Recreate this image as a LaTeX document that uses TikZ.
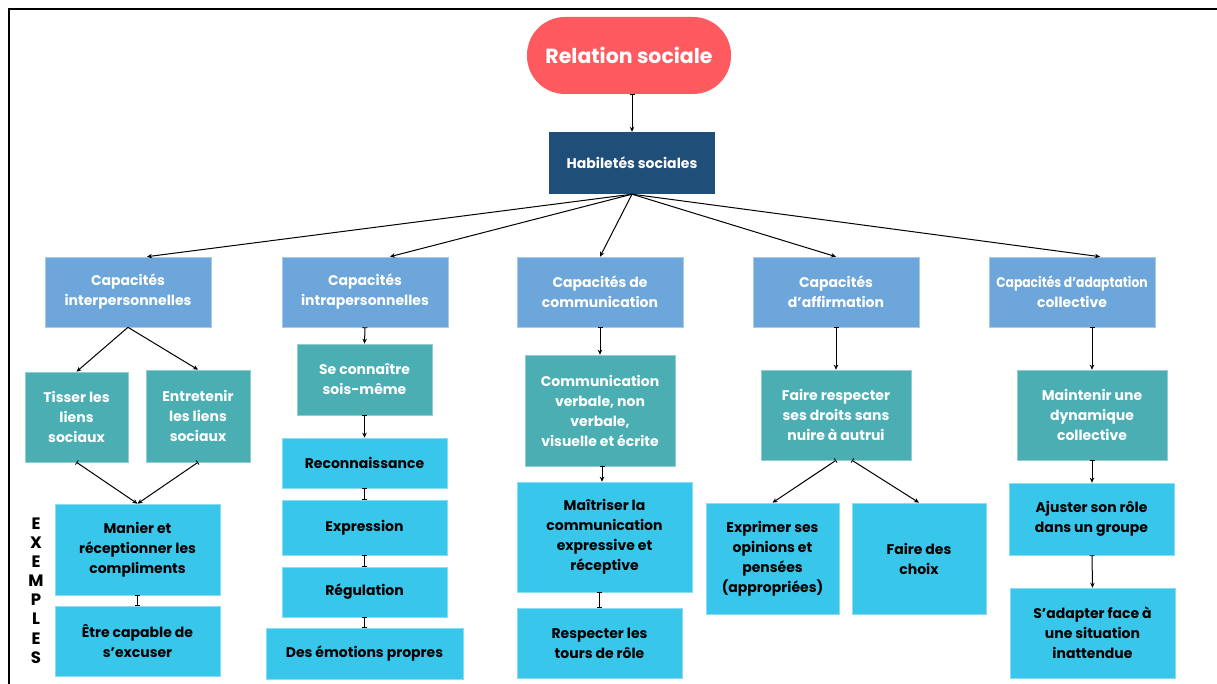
\documentclass[tikz,border=0pt]{standalone}
\usepackage{fontspec}
\setmainfont{Poppins}
\usetikzlibrary{arrows.meta}

\definecolor{rouge}{HTML}{FF5A5F}
\definecolor{marine}{HTML}{1F4E79}
\definecolor{bleucap}{HTML}{6CA6DA}
\definecolor{sarcelle}{HTML}{4AAEB3}
\definecolor{ciel}{HTML}{38C6EB}

\begin{document}
\begin{tikzpicture}[x=1pt,y=-1pt,
  txt/.style={font=\bfseries\fontsize{14}{20}\selectfont},
  base/.style={rectangle,inner sep=0pt,align=center,txt},
  capbox/.style={base,fill=bleucap,draw=bleucap!60!white,line width=0.6pt,text=white,minimum width=166,minimum height=70},
  tealbox/.style={base,fill=sarcelle,draw=sarcelle!60!white,line width=0.6pt,text=white},
  exbox/.style={base,fill=ciel,draw=ciel!60!white,line width=0.6pt,text=black},
  link/.style={line width=1pt,-{Stealth[length=5pt,width=4.5pt]}},
  barlink/.style={line width=1pt,{Bar[width=5pt,line width=0.8pt]}-{Stealth[length=5pt,width=4.5pt]}},
  ibeam/.style={line width=1pt,{Bar[width=5pt,line width=0.8pt]}-{Bar[width=5pt,line width=0.8pt]}}]

\useasboundingbox (0,0) rectangle (1217,684);
\fill[white] (0,0) rectangle (1217,684);

% outer frame
\draw[line width=2pt] (8.5,684) -- (8.5,9.5) -- (1217,9.5);

% title and main box
\node[base,fill=rouge,rounded corners=38pt,minimum width=204,minimum height=77,text=white,
      font=\bfseries\fontsize{20.5}{24}\selectfont] (rel) at (629,55.5) {Relation sociale};
\node[base,fill=marine,minimum width=166,minimum height=62,text=white] (hab) at (632,163) {Habiletés sociales};

% categories
\node[capbox] (inter) at (128,292)  {Capacités\\interpersonnelles};
\node[capbox] (intra) at (365,292)  {Capacités\\intrapersonnelles};
\node[capbox] (comm)  at (600,292)  {Capacités de\\communication};
\node[capbox] (affi)  at (836,292)  {Capacités\\d’affirmation};
\node[capbox] (adap)  at (1072,292) {\scalebox{0.88}[1]{Capacités d’adaptation}\\collective};

% skills
\node[tealbox,minimum width=103,minimum height=90] (tiss)  at (76.5,417)  {Tisser les\\liens\\sociaux};
\node[tealbox,minimum width=104,minimum height=92] (entr)  at (198,416)   {Entretenir\\les liens\\sociaux};
\node[tealbox,minimum width=135,minimum height=71] (conn)  at (364.5,379.5) {Se connaître\\sois-même};
\node[tealbox,minimum width=150,minimum height=111] (comv) at (600,410.5) {Communication\\verbale, non\\verbale,\\visuelle et écrite};
\node[tealbox,minimum width=150,minimum height=90] (fair)  at (836,415)   {Faire respecter\\ses droits sans\\nuire à autrui};
\node[tealbox,minimum width=150,minimum height=90] (maint) at (1092,415)  {Maintenir une\\dynamique\\collective};

% examples
\node[exbox,minimum width=165,minimum height=91] (mani) at (137.5,549.5) {Manier et\\réceptionner les\\compliments};
\node[exbox,minimum width=165,minimum height=70] (etre) at (137.5,641)   {Être capable de\\s’excuser};
\node[exbox,minimum width=165,minimum height=50] (reco) at (364.5,463)   {Reconnaissance};
\node[exbox,minimum width=165,minimum height=55] (expr) at (364.5,527.5) {Expression};
\node[exbox,minimum width=165,minimum height=50] (regu) at (364.5,592)   {Régulation};
\node[exbox,minimum width=197,minimum height=51] (emot) at (364.5,653.5) {Des émotions propres};
\node[exbox,minimum width=175,minimum height=110] (mait) at (604.5,537)  {Maîtriser la\\communication\\expressive et\\réceptive};
\node[exbox,minimum width=165,minimum height=70] (resp) at (599.5,643)   {Respecter les\\tours de rôle};
\node[exbox,minimum width=133,minimum height=111] (expo) at (772.5,558.5) {Exprimer ses\\opinions et\\pensées\\(appropriées)};
\node[exbox,minimum width=134,minimum height=111] (choi) at (919,558.5)   {Faire des\\choix};
\node[exbox,minimum width=165,minimum height=72] (ajus) at (1091.5,519)  {Ajuster son rôle\\dans un groupe};
\node[exbox,minimum width=165,minimum height=90] (sada) at (1092.5,633)  {S’adapter face à\\une situation\\inattendue};

% side label
\node[align=center,inner sep=0pt,font=\bfseries\fontsize{16.5}{19.15}\selectfont] (exem) at (36,590.5)
  {E\\X\\E\\M\\P\\L\\E\\S};

% connectors
\draw[barlink] (hab.north |- rel.south) -- (hab.north);
\draw[link] (hab.south) -- ([xshift=19]inter.north);
\draw[link] (hab.south) -- ([xshift=25]intra.north);
\draw[link] (hab.south) -- (comm.north);
\draw[link] (hab.south) -- (affi.north);
\draw[link] (hab.south) -- ([xshift=28]adap.north);

\draw[link] (inter.south) -- (tiss.north);
\draw[link] (inter.south) -- (entr.north);
\draw[barlink] (intra.south) -- (conn.north);
\draw[barlink] (comm.south) -- (comv.north);
\draw[barlink] (affi.south) -- (fair.north);
\draw[barlink] (maint.north |- adap.south) -- (maint.north);

\draw[barlink] (tiss.south) -- (mani.north);
\draw[barlink] (entr.south) -- (mani.north);
\draw[ibeam] (mani.south) -- (etre.north);
\draw[barlink] (conn.south) -- (reco.north);
\draw[ibeam] (reco.south) -- (expr.north);
\draw[ibeam] (expr.south) -- (regu.north);
\draw[ibeam] (regu.south) -- (emot.north);
\draw[barlink] ([xshift=2]comv.south) -- ([xshift=-2.5]mait.north);
\draw[ibeam] (resp.north |- mait.south) -- (resp.north);
\draw[barlink] (fair.south) -- (expo.north);
\draw[barlink] ([xshift=16]fair.south) -- (choi.north);
\draw[barlink] (maint.south) -- ([xshift=0.5]ajus.north);
\draw[barlink] ([xshift=0.5]ajus.south) -- (sada.north);
\end{tikzpicture}
\end{document}
